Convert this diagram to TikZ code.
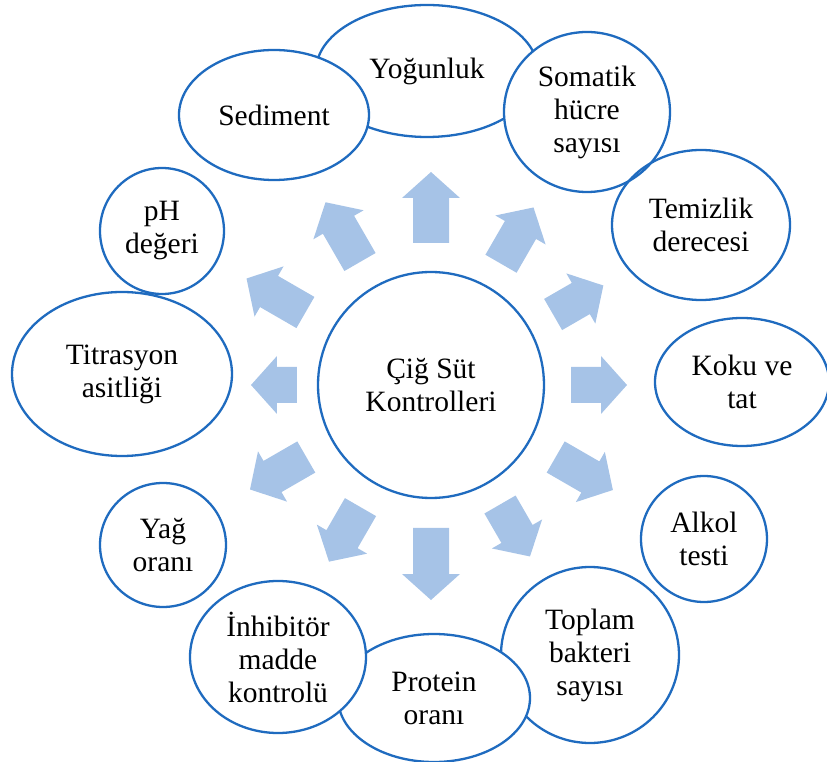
\documentclass[tikz,border=0pt]{standalone}
\usepackage{fontspec}
\setmainfont{Liberation Serif}
\usepackage{tikz}
\usetikzlibrary{shapes.geometric}
\definecolor{ringblue}{HTML}{1F6BBF}
\definecolor{arrowblue}{HTML}{A6C3E7}
\tikzset{bubble/.style={ellipse, draw=ringblue, line width=2.3pt, fill=white, inner sep=0pt, align=center, font=\fontsize{29.5}{33}\selectfont, text=black}}
\newcommand{\blockarrow}[3]{\fill[arrowblue, rotate=#1] (#2,-18) -- ({#2+#3-26},-18) -- ({#2+#3-26},-29) -- ({#2+#3},0) -- ({#2+#3-26},29) -- ({#2+#3-26},18) -- (#2,18) -- cycle;}

\begin{document}
\begin{tikzpicture}[x=1pt,y=1pt]
        \useasboundingbox (-431,-377) rectangle (396,385);
        % Draw the middle circle
        \node[bubble, circle, minimum size=226pt] (cig) at (0,0) {Çiğ Süt\\Kontrolleri};

        % Draw the block arrows round it
        \blockarrow{0}{140}{56}
        \blockarrow{30}{141}{58}
        \blockarrow{60}{140}{65}
        \blockarrow{90}{142}{71}
        \blockarrow{120}{142}{69}
        \blockarrow{150}{145}{68}
        \blockarrow{180}{134}{46}
        \blockarrow{210}{144}{65}
        \blockarrow{240}{141}{63}
        \blockarrow{270}{143}{72}
        \blockarrow{300}{138}{60}
        \blockarrow{330}{144}{66}

        % Draw the outer ellipses (the ones behind first)
        \node[bubble, minimum width=222pt, minimum height=132pt] (yogunluk) at (-4,314) {Yoğunluk};
        \node[bubble, minimum width=178pt, minimum height=176pt] (toplam) at (159,-270) {Toplam\\bakteri\\sayısı};
        \node[bubble, minimum width=192pt, minimum height=128pt] (protein) at (3,-313) {Protein\\oranı};
        \node[bubble, minimum width=176pt, minimum height=152pt] (inhibitor) at (-153,-272) {İnhibitör\\madde\\kontrolü};
        \node[bubble, minimum width=190pt, minimum height=130pt] (sediment) at (-157,270) {Sediment};
        \node[bubble, minimum width=166pt, minimum height=160pt] (somatik) at (156,273) {Somatik\\hücre\\sayısı};
        \node[bubble, fill=none, minimum width=178pt, minimum height=150pt] (temizlik) at (270,160) {Temizlik\\derecesi};
        \node[bubble, minimum width=124pt, minimum height=126pt] (ph) at (-269,154) {pH\\değeri};
        \node[bubble, minimum width=220pt, minimum height=164pt] (titrasyon) at (-309,11) {Titrasyon\\asitliği};
        \node[bubble, minimum width=174pt, minimum height=128pt] (koku) at (311,3) {Koku ve\\tat};
        \node[bubble, minimum width=126pt, minimum height=124pt] (yag) at (-268,-160) {Yağ\\oranı};
        \node[bubble, minimum width=126pt, minimum height=126pt] (alkol) at (273,-154) {Alkol\\testi};
    \end{tikzpicture}
\end{document}
